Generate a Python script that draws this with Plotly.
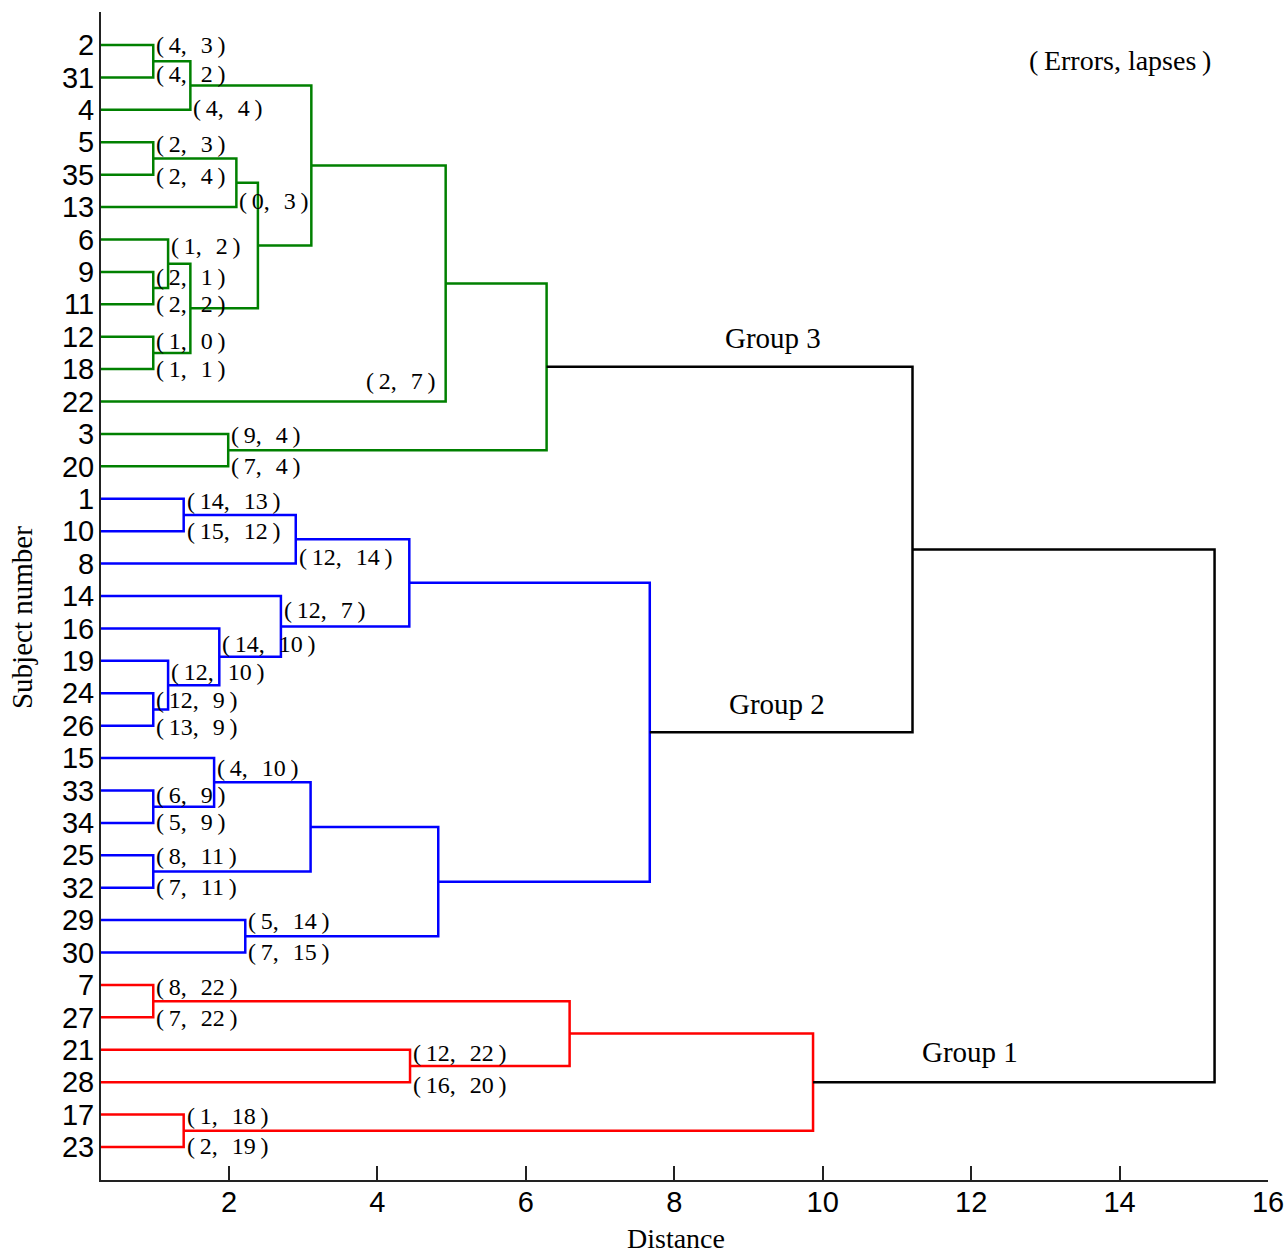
import plotly.graph_objects as go

# ---------------- data ----------------
leaves = ["2", "31", "4", "5", "35", "13", "6", "9", "11", "12", "18", "22", "3", "20",
          "1", "10", "8", "14", "16", "19", "24", "26", "15", "33", "34", "25", "32", "29", "30",
          "7", "27", "21", "28", "17", "23"]

errors = [4, 4, 4, 2, 2, 0, 1, 2, 2, 1, 1, 2, 9, 7,
          14, 15, 12, 12, 14, 12, 12, 13, 4, 6, 5, 8, 7, 5, 7,
          8, 7, 12, 16, 1, 2]
lapses = [3, 2, 4, 3, 4, 3, 2, 1, 2, 0, 1, 7, 4, 4,
          13, 12, 14, 7, 10, 10, 9, 9, 10, 9, 9, 11, 11, 14, 15,
          22, 22, 22, 20, 18, 19]

# linkage: merge k joins merge_left[k] and merge_right[k] ("m#" = earlier merge)
merge_left = ["2", "m0", "5", "m2", "9", "6", "12", "m5", "m3", "m1", "m9", "3", "m10",
              "1", "m13", "24", "19", "16", "14", "m14", "33", "15", "25", "m21", "29", "m23", "m19",
              "7", "21", "m27", "17", "m29",
              "m12", "m32"]
merge_right = ["31", "4", "35", "13", "11", "m4", "18", "m6", "m7", "m8", "22", "20", "m11",
               "10", "8", "26", "m15", "m16", "m17", "m18", "34", "m20", "32", "m22", "30", "m24", "m25",
               "27", "28", "m28", "23", "m30",
               "m26", "m31"]
merge_dist = [0.98, 1.48, 0.98, 2.10, 0.98, 1.18, 0.98, 1.48, 2.39, 3.11, 4.92, 1.99, 6.28,
              1.39, 2.90, 0.98, 1.18, 1.87, 2.70, 4.43, 0.98, 1.80, 0.98, 3.10, 2.22, 4.82, 7.67,
              0.98, 4.44, 6.59, 1.39, 9.87,
              11.21, 15.28]
merge_group = ["Group 3"] * 13 + ["Group 2"] * 14 + ["Group 1"] * 5 + ["all", "all"]

group_names = ["Group 3", "Group 2", "Group 1"]
x_ticks = [2, 4, 6, 8, 10, 12, 14, 16]

# ---------------- styles / layout helpers ----------------
group_color = {"Group 3": "#008000", "Group 2": "#0000FF", "Group 1": "#FF0000", "all": "#000000"}
SERIF = "Liberation Serif, 'Times New Roman', serif"
SANS = "Liberation Sans, Arial, sans-serif"

# small vertical nudges (px) of the pair labels relative to their leaf line
label_dy = [0, -3, -2, 2, 1, -6, 7, 5, 0, 4, 0, -21, 1, 0,
            2, 0, -7, 14, 16, 11, 7, 1, 10, 5, -1, 1, -1, 1, -1,
            2, 1, 3, 3, 1, -1]
right_side_leaf = {"22"}

# ---------------- build dendrogram geometry ----------------
pos = {name: (0.0, float(i)) for i, name in enumerate(leaves)}   # (height, y)
parent_height = {}
segs = {g: ([], []) for g in group_color}
for k, (a, b, h, g) in enumerate(zip(merge_left, merge_right, merge_dist, merge_group)):
    xa, ya = pos[a]
    xb, yb = pos[b]
    xs, ys = segs[g]
    xs += [xa, h, h, xb, None]
    ys += [ya, ya, yb, yb, None]
    pos["m%d" % k] = (h, (ya + yb) / 2.0)
    for c in (a, b):
        if not c.startswith("m"):
            parent_height[c] = h

fig = go.Figure()
for g, (xs, ys) in segs.items():
    fig.add_trace(go.Scatter(x=xs, y=ys, mode="lines", showlegend=False, hoverinfo="skip",
                             line=dict(color=group_color[g], width=2.5)))

annotations = []
for i, name in enumerate(leaves):
    txt = "(\u2009%d,\u2002\u200a%d\u2009)" % (errors[i], lapses[i])
    right = name in right_side_leaf
    annotations.append(dict(
        x=parent_height[name], y=i, xref="x", yref="y", text=txt, showarrow=False,
        xanchor="right" if right else "left", yanchor="middle",
        xshift=-8 if right else 1, yshift=-label_dy[i],
        font=dict(family=SERIF, size=24, color="black")))

# group labels
group_pos = {"Group 3": (9.33, 9.04), "Group 2": (9.38, 20.33), "Group 1": (11.98, 31.07)}
for g in group_names:
    gx, gy = group_pos[g]
    annotations.append(dict(x=gx, y=gy, xref="x", yref="y", text=g, showarrow=False,
                            xanchor="center", yanchor="middle",
                            font=dict(family=SERIF, size=29, color="black")))

annotations.append(dict(x=14.0, y=0.49, xref="x", yref="y", text="(\u2009Errors, lapses\u2009)",
                        showarrow=False, xanchor="center", yanchor="middle",
                        font=dict(family=SERIF, size=28, color="black")))
annotations.append(dict(x=8.02, y=-0.0651, xref="x", yref="paper", text="Distance",
                        showarrow=False, xanchor="center", yanchor="bottom",
                        font=dict(family=SERIF, size=28, color="black")))
annotations.append(dict(x=-0.0677, y=0.482, xref="paper", yref="paper", text="Subject number",
                        showarrow=False, xanchor="center", yanchor="middle", textangle=-90,
                        font=dict(family=SERIF, size=29, color="black")))

fig.update_layout(
    width=1285, height=1257,
    margin=dict(l=101, r=17, t=12, b=77, autoexpand=False),
    paper_bgcolor="white", plot_bgcolor="white",
    annotations=annotations,
    xaxis=dict(range=[0.276, 16.0], tickvals=x_ticks, ticktext=[str(t) for t in x_ticks],
               ticks="inside", ticklen=14, tickwidth=1.5, tickcolor="#222",
               showline=True, linecolor="#222", linewidth=2, mirror=False,
               showgrid=False, zeroline=False, automargin=False, ticklabelstandoff=-5,
               tickfont=dict(family=SANS, size=29, color="black")),
    yaxis=dict(range=[35.018, -1.018], tickvals=list(range(len(leaves))), ticktext=leaves,
               ticks="", showline=True, linecolor="#222", linewidth=2, mirror=False,
               showgrid=False, zeroline=False, automargin=False, ticklabelstandoff=-1,
               tickfont=dict(family=SANS, size=29, color="black")),
)

# let the figure fill the whole window (no default page margin), no mode bar
fig.write_html("out.html", config={"displayModeBar": False},
               post_script="document.body.style.margin='0';document.body.style.overflow='hidden';")
